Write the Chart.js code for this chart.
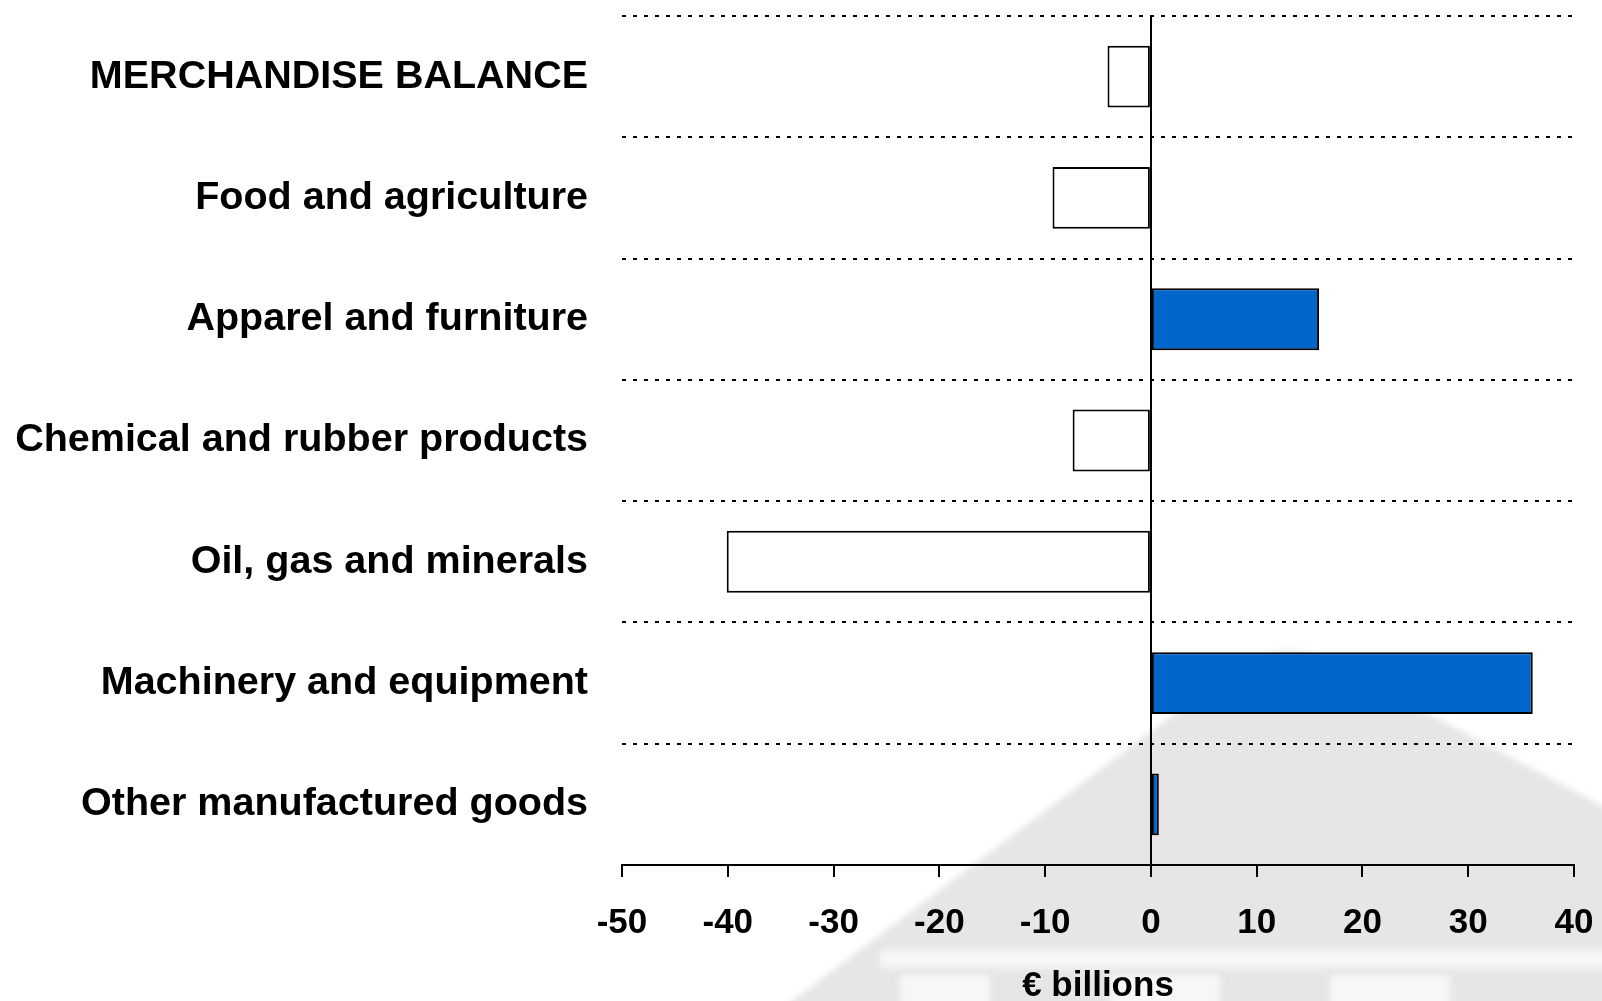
<!DOCTYPE html>
<html>
<head>
<meta charset="utf-8">
<script src="https://cdn.jsdelivr.net/npm/chart.js@4"></script>
<style>
  html, body { margin: 0; padding: 0; background: #fff; overflow: hidden; }
  #wrap { width: 1602px; height: 1001px; }
</style>
</head>
<body>
<div id="wrap"><canvas id="chart" width="1602" height="1001"></canvas></div>
<script>
const categories = [
  'MERCHANDISE BALANCE',
  'Food and agriculture',
  'Apparel and furniture',
  'Chemical and rubber products',
  'Oil, gas and minerals',
  'Machinery and equipment',
  'Other manufactured goods'
];
const balance = [-4.1, -9.3, 15.9, -7.4, -40.1, 36.1, 0.75];
const xMin = -50;
const xMax = 40;
const xStep = 10;
const axisTitle = '€ billions';

const fontFamily = '"Liberation Sans", Arial, sans-serif';
const blue = '#0066cc';

// faint grey temple logo in the background (bottom right)
const watermark = {
  id: 'watermark',
  beforeDraw(chart) {
    const ctx = chart.ctx;
    ctx.save();
    ctx.filter = 'blur(3px)';
    ctx.fillStyle = '#e6e6e6';
    ctx.beginPath();
    ctx.moveTo(780, 1010);
    ctx.lineTo(1230, 672);
    ctx.quadraticCurveTo(1290, 630, 1350, 672);
    ctx.lineTo(1610, 810);
    ctx.lineTo(1610, 1010);
    ctx.closePath();
    ctx.fill();
    ctx.fillStyle = '#f7f7f7';
    ctx.fillRect(880, 950, 730, 18);
    ctx.fillRect(900, 975, 90, 40);
    ctx.fillRect(1110, 975, 110, 40);
    ctx.fillRect(1330, 975, 120, 40);
    ctx.restore();
  }
};

new Chart(document.getElementById('chart'), {
  type: 'bar',
  data: {
    labels: categories,
    datasets: [
      {
        data: balance,
        backgroundColor: balance.map((v) => (v >= 0 ? blue : '#ffffff')),
        borderColor: '#000000',
        borderWidth: 2,
        borderSkipped: false,
        categoryPercentage: 1,
        barPercentage: 0.51,
      },
    ],
  },
  options: {
    indexAxis: 'y',
    responsive: false,
    animation: false,
    layout: { padding: { left: 13, right: 28, top: 16, bottom: 0 } },
    plugins: { legend: { display: false }, tooltip: { enabled: false } },
    scales: {
      x: {
        min: xMin,
        max: xMax,
        afterFit: (scale) => {
          scale.height = 136;
          scale.paddingLeft = 0;
          scale.paddingRight = 0;
        },
        ticks: {
          stepSize: xStep,
          color: '#000',
          padding: 25,
          maxRotation: 0,
          font: { family: fontFamily, size: 35, weight: 'bold' },
        },
        grid: {
          drawOnChartArea: true,
          color: (c) => (c.tick && c.tick.value === 0 ? '#000' : 'rgba(0,0,0,0)'),
          tickColor: '#000',
          tickLength: 12,
          lineWidth: 2,
        },
        border: { display: true, color: '#000', width: 2 },
        title: {
          display: true,
          text: axisTitle,
          color: '#000',
          padding: { top: 0, bottom: -3 },
          font: { family: fontFamily, size: 35, weight: 'bold', lineHeight: 1 },
        },
      },
      y: {
        afterFit: (scale) => {
          scale.width = 609;
          scale.paddingTop = 0;
          scale.paddingBottom = 0;
        },
        ticks: {
          color: '#000',
          padding: 34,
          font: { family: fontFamily, size: 39.5, weight: 'bold' },
        },
        grid: {
          offset: true,
          color: '#000',
          lineWidth: 2,
          drawTicks: false,
        },
        border: { display: false, dash: [4, 7] },
      },
    },
  },
  plugins: [watermark],
});
</script>
</body>
</html>
